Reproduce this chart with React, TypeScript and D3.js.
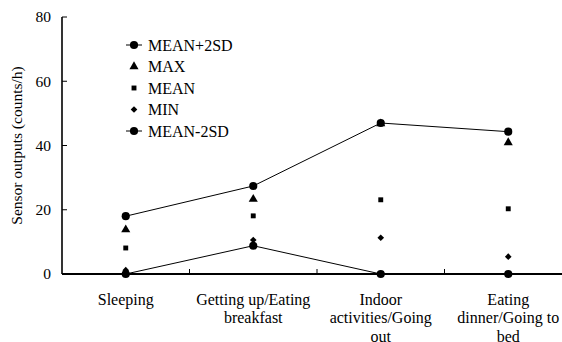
import React, { useEffect, useRef } from 'react';
import * as d3 from 'd3';

const categories = [
  ['Sleeping'],
  ['Getting up/Eating', 'breakfast'],
  ['Indoor', 'activities/Going', 'out'],
  ['Eating', 'dinner/Going to', 'bed'],
];
const meanPlus2SD = [18, 27.4, 47, 44.3];
const maxValues = [13.8, 23.3, 46.8, 40.9];
const meanValues = [8.1, 18.1, 23.1, 20.3];
const minValues = [1.2, 10.6, 11.3, 5.4];
const meanMinus2SD = [0, 8.8, 0, 0];
const yTicks = [0, 20, 40, 60, 80];
const legendLabels = ['MEAN+2SD', 'MAX', 'MEAN', 'MIN', 'MEAN-2SD'];

const App = () => {
  const ref = useRef(null);

  useEffect(() => {
    const svg = d3.select(ref.current);
    svg.selectAll('*').remove();
    const font = "'Liberation Serif', Tinos, 'Times New Roman', Times, 'DejaVu Serif', serif";

    const x = d3
      .scaleBand()
      .domain(categories.map((_, i) => String(i)))
      .range([62, 572]);
    const y = d3.scaleLinear().domain([0, 80]).range([274, 17]);
    const cx = (i) => x(String(i)) + x.bandwidth() / 2;

    // marker styles, one per series (same order as legend)
    const markers = [
      { symbol: d3.symbolCircle, size: 52, rotate: 0, line: true },
      { symbol: d3.symbolTriangle, size: 36, rotate: 0, line: false },
      { symbol: d3.symbolSquare, size: 24, rotate: 0, line: false },
      { symbol: d3.symbolSquare, size: 22, rotate: 45, line: false },
      { symbol: d3.symbolCircle, size: 52, rotate: 0, line: true },
    ];
    const series = [meanPlus2SD, maxValues, meanValues, minValues, meanMinus2SD];

    // y axis
    svg.append('line')
      .attr('x1', 62).attr('x2', 62)
      .attr('y1', y(80)).attr('y2', y(0))
      .attr('stroke', '#000').attr('stroke-width', 1.6);
    yTicks.forEach((t) => {
      svg.append('line')
        .attr('x1', 62).attr('x2', 67)
        .attr('y1', y(t)).attr('y2', y(t))
        .attr('stroke', '#000').attr('stroke-width', 1);
      svg.append('text')
        .attr('x', 51).attr('y', y(t)).attr('dy', '0.35em')
        .attr('text-anchor', 'end')
        .attr('font-family', font).attr('font-size', 15.5)
        .text(t);
    });

    // x axis
    svg.append('line')
      .attr('x1', 62).attr('x2', 572)
      .attr('y1', y(0)).attr('y2', y(0))
      .attr('stroke', '#000').attr('stroke-width', 2);
    categories.forEach((_, i) => {
      if (i === 0) return;
      const tx = x(String(i));
      svg.append('line')
        .attr('x1', tx).attr('x2', tx)
        .attr('y1', y(0)).attr('y2', y(0) - 5)
        .attr('stroke', '#000').attr('stroke-width', 1);
    });
    categories.forEach((lines, i) => {
      const t = svg.append('text')
        .attr('text-anchor', 'middle')
        .attr('font-family', font).attr('font-size', 16);
      lines.forEach((l, j) => {
        t.append('tspan').attr('x', cx(i)).attr('y', 304.5 + j * 18.5).text(l);
      });
    });

    svg.append('text')
      .attr('transform', `translate(22, ${y(40)}) rotate(-90)`)
      .attr('text-anchor', 'middle')
      .attr('font-family', font).attr('font-size', 15.5)
      .text('Sensor outputs (counts/h)');

    // lines
    const line = d3.line().x((d, i) => cx(i)).y((d) => y(d));
    [meanPlus2SD, meanMinus2SD].forEach((s) => {
      svg.append('path')
        .attr('d', line(s))
        .attr('fill', 'none').attr('stroke', '#000').attr('stroke-width', 1);
    });

    series.forEach((s, k) => {
      const m = markers[k];
      svg.selectAll(null)
        .data(s)
        .enter()
        .append('path')
        .attr('transform', (d, i) => `translate(${cx(i)},${y(d)}) rotate(${m.rotate})`)
        .attr('d', d3.symbol().type(m.symbol).size(m.size))
        .attr('fill', '#000');
    });

    // legend
    legendLabels.forEach((label, i) => {
      const m = markers[i];
      const ly = 45 + i * 21.5;
      const g = svg.append('g').attr('transform', `translate(134,${ly})`);
      if (m.line) {
        g.append('line').attr('x1', -8).attr('x2', 8)
          .attr('stroke', '#000').attr('stroke-width', 1);
      }
      g.append('path')
        .attr('transform', `rotate(${m.rotate})`)
        .attr('d', d3.symbol().type(m.symbol).size(m.size))
        .attr('fill', '#000');
      g.append('text')
        .attr('x', 14).attr('dy', '0.35em')
        .attr('font-family', font).attr('font-size', 16)
        .text(label);
    });
  }, []);

  return (
    <svg
      ref={ref}
      width={562}
      height={342}
      style={{ position: 'absolute', left: 0, top: 0, background: '#fff' }}
    />
  );
};

export default App;
